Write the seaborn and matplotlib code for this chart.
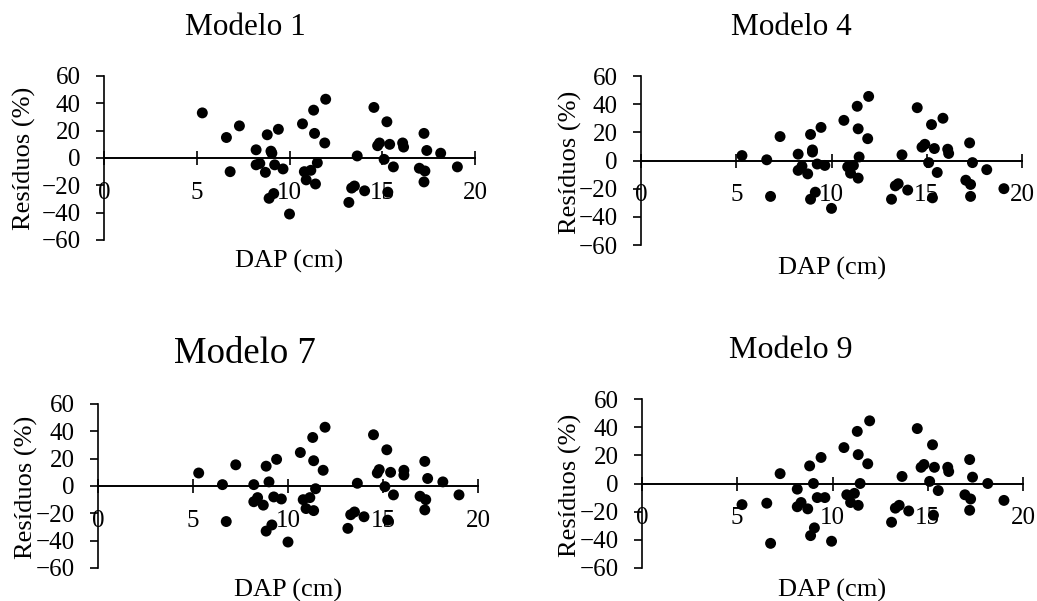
import matplotlib
matplotlib.use("Agg")
import matplotlib.pyplot as plt
import seaborn as sns
import pandas as pd

# residuos (%) x DAP (cm)
dap_m1 = [5.3, 6.6, 6.8, 7.3, 8.2, 8.2, 8.4, 8.7, 8.8, 8.9, 9.0, 9.05, 9.15, 9.2, 9.4, 9.65, 10.0, 10.7, 10.8, 10.9,
          11.15, 11.3, 11.35, 11.4, 11.5, 11.9, 11.95, 13.2, 13.35, 13.5, 13.65, 14.05, 14.55, 14.75, 14.85,
          15.1, 15.25, 15.3, 15.4, 15.6, 16.1, 16.15, 17.0, 17.25, 17.3, 17.25, 17.4, 18.15, 19.05]
res_m1 = [33, 15, -10, 23.5, 6, -5, -4, -10.5, 17, -29.5, 5, 3.5, -26, -5, 21, -8, -41, 25, -10, -16,
          -9, 35, 18, -19, -3.5, 11, 43, -32.5, -22, -20.5, 1.5, -24, 37, 9, 11,
          -1, 26.5, -25, 10, -6.5, 11, 8, -7.5, 18, -9.5, -17.5, 5.5, 3.5, -6.5]

dap_m4 = [5.3, 6.6, 6.8, 7.3, 8.25, 8.25, 8.45, 8.75, 8.9, 8.9, 9.0, 9.0, 9.15, 9.25, 9.45, 9.65, 10.0, 10.65, 10.85, 11.0,
          11.15, 11.35, 11.4, 11.4, 11.45, 11.9, 11.95, 13.15, 13.35, 13.5, 13.7, 14.0, 14.5, 14.75, 14.9,
          15.1, 15.25, 15.3, 15.4, 15.55, 15.85, 16.1, 16.15, 17.05, 17.25, 17.3, 17.3, 17.4, 18.15, 19.05]
res_m4 = [3.5, 0.5, -25.5, 17, 4.5, -7, -4, -9.5, 18.5, -27.5, 7.5, 6, -22.5, -2.5, 23.5, -3.5, -34, 28.5, -4.5, -9,
          -3.5, 38.5, 22.5, -12.5, 2.5, 15.5, 45.5, -27.5, -18, -16.5, 4, -21, 37.5, 9.5, 11.5,
          -1.5, 25.5, -26.5, 8.5, -8.5, 30, 8, 5, -14, 12.5, -17, -25.5, -1.5, -6.5, -20]

dap_m7 = [5.3, 6.55, 6.75, 7.25, 8.2, 8.2, 8.4, 8.7, 8.85, 8.85, 9.0, 9.15, 9.25, 9.4, 9.65, 10.0, 10.65, 10.8, 10.95,
          11.15, 11.3, 11.35, 11.35, 11.45, 11.85, 11.95, 13.15, 13.3, 13.5, 13.65, 14.0, 14.5, 14.7, 14.8,
          15.1, 15.2, 15.25, 15.4, 15.55, 16.1, 16.1, 16.95, 17.2, 17.25, 17.2, 17.35, 18.15, 19.0]
res_m7 = [9.5, 1, -26, 15.5, 1, -11.5, -8.5, -14, 14.5, -33, 3, -28.5, -8, 19.5, -9.5, -41, 24.5, -10, -16.5,
          -8.5, 35.5, 18.5, -18, -2, 11.5, 43, -31, -21, -19, 2, -22.5, 37.5, 9.5, 12,
          -0.5, 26.5, -25, 10, -6.5, 11.5, 8, -7.5, 18, -10, -17.5, 5.5, 3, -6.5]

dap_m9 = [5.25, 6.55, 6.75, 7.25, 8.15, 8.15, 8.35, 8.7, 8.8, 8.85, 9.0, 9.05, 9.2, 9.4, 9.6, 9.95, 10.6, 10.75, 10.95,
          11.15, 11.3, 11.35, 11.35, 11.45, 11.85, 11.95, 13.1, 13.3, 13.5, 13.65, 14.0, 14.45, 14.65, 14.8,
          15.1, 15.25, 15.3, 15.35, 15.55, 16.05, 16.1, 16.95, 17.2, 17.25, 17.2, 17.35, 18.15, 19.0]
res_m9 = [-15, -14, -42.5, 7, -4, -16.5, -13.5, -18, 12.5, -37, 0, -31.5, -10, 18.5, -10, -41, 25.5, -8, -13.5,
          -7, 37, 20.5, -15.5, 0, 14, 44.5, -27.5, -17.5, -15.5, 5, -19.5, 39, 11.5, 13.5,
          1.5, 27.5, -22.5, 11.5, -5, 11.5, 8.5, -8, 17, -11, -19, 4.5, 0, -12]

titulos = ['Modelo 1', 'Modelo 4', 'Modelo 7', 'Modelo 9']
yticks = [-60, -40, -20, 0, 20, 40, 60]
xticks = [0, 5, 10, 15, 20]

W, H = 1037, 601
sns.set_style("ticks")
plt.rcParams['font.family'] = ['Liberation Serif', 'DejaVu Serif']
plt.rcParams['text.color'] = 'black'

fig = plt.figure(figsize=(W / 100, H / 100), dpi=100)

# caixas em pixels: esquerda, direita, topo (y=60), base (y=-60)
boxes = [(104, 475, 76, 240), (641, 1022, 76, 245), (98, 478, 404, 568), (642, 1023, 399, 568)]
title_pos = [(245, 35, 22.5), (791, 35, 22.5), (245, 363, 26.5), (791, 358, 23)]
xlab_pos = [(289, 268), (832, 275), (288, 597), (832, 597)]
ylab_pos = [(24, 158), (570, 162), (26, 487), (570, 485)]

dados = [(dap_m1, res_m1), (dap_m4, res_m4), (dap_m7, res_m7), (dap_m9, res_m9)]

for i, (dx, ry) in enumerate(dados):
    l, r, t, b = boxes[i]
    ax = fig.add_axes([l / W, 1 - b / H, (r - l) / W, (b - t) / H])
    df = pd.DataFrame({'DAP': dx, 'Res': ry})
    sns.scatterplot(data=df, x='DAP', y='Res', ax=ax, color='black', s=62, edgecolor='none', zorder=3, clip_on=False)
    ax.set_xlim(0, 20)
    ax.set_ylim(-60, 60)
    ax.set_xticks(xticks)
    ax.set_yticks(yticks)
    ax.spines['top'].set_visible(False)
    ax.spines['right'].set_visible(False)
    ax.spines['bottom'].set_position(('data', 0))
    ax.spines['bottom'].set_linewidth(1.4)
    ax.spines['left'].set_linewidth(1.2)
    ax.spines['bottom'].set_color('black')
    ax.spines['left'].set_color('black')
    ax.tick_params(axis='x', direction='inout', length=10, width=1.2, pad=12, labelsize=18, colors='black')
    ax.tick_params(axis='y', direction='out', length=6, width=1.2, pad=11, labelsize=18, colors='black')
    ax.set_xlabel('')
    ax.set_ylabel('')

    tx, ty, ts = title_pos[i]
    fig.text(tx / W, 1 - ty / H, titulos[i], ha='center', va='baseline', fontsize=ts)
    fig.text(xlab_pos[i][0] / W, 1 - xlab_pos[i][1] / H, 'DAP (cm)', ha='center', va='baseline', fontsize=19)
    fig.text(ylab_pos[i][0] / W, 1 - ylab_pos[i][1] / H, 'Resíduos (%)', ha='center', va='center',
             rotation=90, fontsize=19)

fig.savefig('out.png', dpi=100, facecolor='white')
